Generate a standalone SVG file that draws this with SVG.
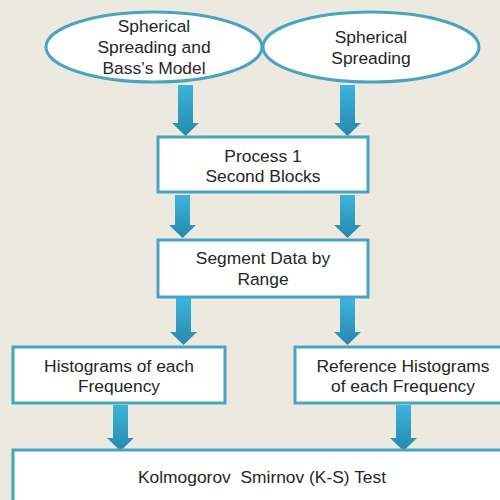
<svg xmlns="http://www.w3.org/2000/svg" width="500" height="500" viewBox="0 0 500 500">
<defs>
<linearGradient id="ag" x1="0" y1="0" x2="0" y2="1">
<stop offset="0" stop-color="#3DB4DA"/>
<stop offset="1" stop-color="#2788AE"/>
</linearGradient>
<style>
.n{fill:#fff;stroke:#4AA4C0;stroke-width:3}
.t{font-family:"Liberation Sans",Arial,sans-serif;font-size:17.4px;fill:#262626;text-anchor:middle}
.a{fill:url(#ag)}
</style>
</defs>
<rect width="500" height="500" fill="#ECE9E0"/>
<g id="connectors">
<path class="a" d="M178 85h15v38h6l-13.5 13l-13.5-13h6z"/>
<path class="a" d="M340 85h15v38h6l-13.5 13l-13.5-13h6z"/>
<path class="a" d="M175 195h15v30h6l-13.5 13l-13.5-13h6z"/>
<path class="a" d="M340 195h15v30h6l-13.5 13l-13.5-13h6z"/>
<path class="a" d="M176 298h15v34h6l-13.5 13l-13.5-13h6z"/>
<path class="a" d="M340 298h15v34h6l-13.5 13l-13.5-13h6z"/>
<path class="a" d="M113 405h15v33h6l-13.5 13l-13.5-13h6z"/>
<path class="a" d="M396 405h15v33h6l-13.5 13l-13.5-13h6z"/>
</g>
<g id="n1">
<ellipse class="n" cx="154" cy="47" rx="108" ry="35"/>
<text class="t" x="154" y="32">Spherical</text>
<text class="t" x="154" y="53">Spreading and</text>
<text class="t" x="154" y="74">Bass’s Model</text>
</g>
<g id="n2">
<ellipse class="n" cx="371" cy="47" rx="108" ry="35"/>
<text class="t" x="371" y="43">Spherical</text>
<text class="t" x="371" y="64">Spreading</text>
</g>
<g id="n3">
<rect class="n" x="158" y="137" width="210" height="55"/>
<text class="t" x="263" y="162">Process 1</text>
<text class="t" x="263" y="182">Second Blocks</text>
</g>
<g id="n4">
<rect class="n" x="158" y="240" width="210" height="57"/>
<text class="t" x="263" y="264">Segment Data by</text>
<text class="t" x="263" y="285">Range</text>
</g>
<g id="n5">
<rect class="n" x="13" y="347" width="212" height="56"/>
<text class="t" x="119" y="372">Histograms of each</text>
<text class="t" x="119" y="392">Frequency</text>
</g>
<g id="n6">
<rect class="n" x="295" y="347" width="216" height="56"/>
<text class="t" x="403" y="372">Reference Histograms</text>
<text class="t" x="403" y="392">of each Frequency</text>
</g>
<g id="n7">
<rect class="n" x="13" y="450" width="500" height="60"/>
<text class="t" x="262" y="483" xml:space="preserve">Kolmogorov  Smirnov (K-S) Test</text>
</g>
</svg>
